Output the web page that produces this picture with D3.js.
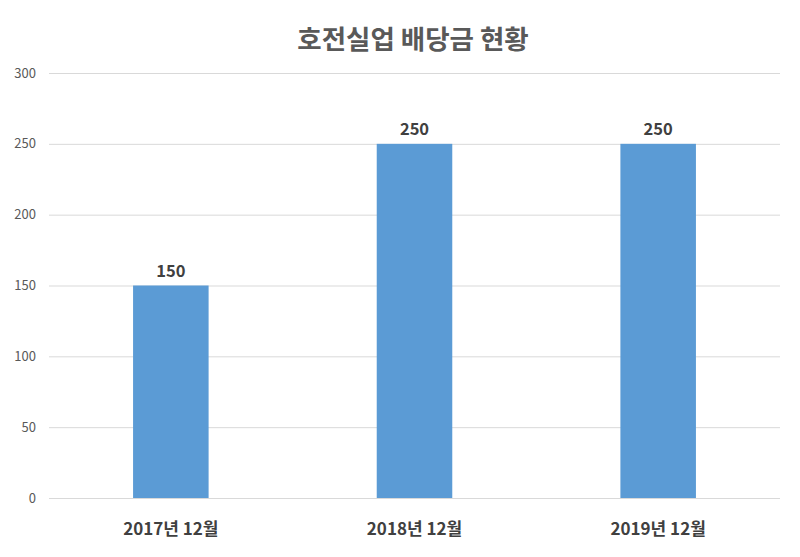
<!DOCTYPE html>
<html><head><meta charset="utf-8">
<script src="https://cdn.jsdelivr.net/npm/d3@7"></script>
<style>body{margin:0;background:#fff}</style>
</head><body>
<svg id="c" width="800" height="557"></svg>
<script>
const categories = ["2017년 12월", "2018년 12월", "2019년 12월"];
const values = [150, 250, 250];
const yTicks = [0, 50, 100, 150, 200, 250, 300];
const title = "호전실업 배당금 현황";

const svg = d3.select("#c");
const font = "'Noto Sans CJK KR', 'Noto Sans', sans-serif";
const m = {l: 49, r: 780, t: 73, b: 498};
const x = d3.scaleBand().domain(categories).range([m.l, m.r]).paddingInner(0.69).paddingOuter(0.345);
const y = d3.scaleLinear().domain([0, 300]).range([m.b, m.t]);

svg.append("rect").attr("width", 800).attr("height", 557).attr("fill", "#fff");

svg.append("g").selectAll("line").data(yTicks).join("line")
  .attr("x1", m.l).attr("x2", m.r)
  .attr("y1", d => y(d) + 0.5).attr("y2", d => y(d) + 0.5)
  .attr("stroke", "#d9d9d9").attr("stroke-width", 1);

svg.append("g").selectAll("text").data(yTicks).join("text")
  .attr("x", 36).attr("y", d => y(d) + 4.5)
  .attr("text-anchor", "end").attr("font-family", font).attr("font-size", 13)
  .attr("fill", "#595959").text(d => d);

svg.append("g").selectAll("rect").data(values).join("rect")
  .attr("x", (d, i) => x(categories[i])).attr("width", x.bandwidth())
  .attr("y", d => y(d)).attr("height", d => y(0) - y(d))
  .attr("fill", "#5b9bd5");

svg.append("g").selectAll("text").data(values).join("text")
  .attr("x", (d, i) => x(categories[i]) + x.bandwidth() / 2)
  .attr("y", d => y(d) - 9)
  .attr("text-anchor", "middle").attr("font-family", font).attr("font-weight", "bold")
  .attr("font-size", 16.5).attr("fill", "#404040").text(d => d);

svg.append("g").selectAll("text").data(categories).join("text")
  .attr("x", d => x(d) + x.bandwidth() / 2).attr("y", 535)
  .attr("text-anchor", "middle").attr("font-family", font).attr("font-weight", "bold")
  .attr("font-size", 17).attr("fill", "#404040").text(d => d);

svg.append("text").attr("x", 413).attr("y", 49).attr("text-anchor", "middle")
  .attr("font-family", font).attr("font-weight", "bold").attr("font-size", 26.5)
  .attr("fill", "#595959").text(title);
</script>
</body></html>
